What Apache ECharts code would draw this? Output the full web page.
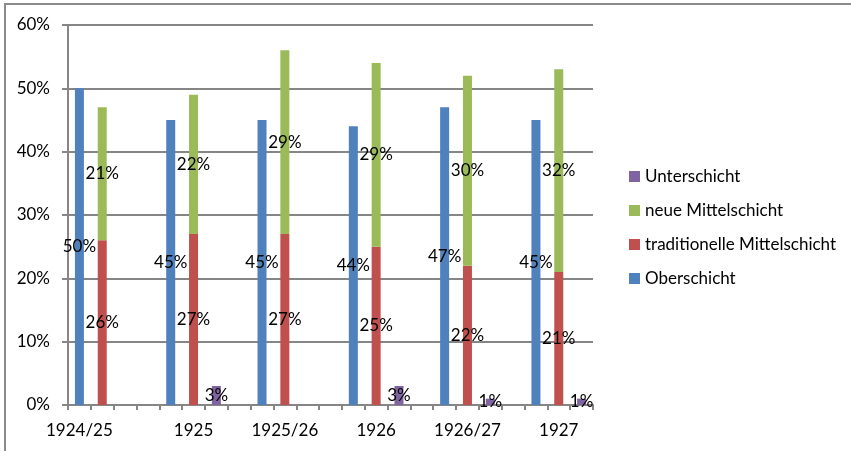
<!DOCTYPE html>
<html>
<head>
<meta charset="utf-8">
<script src="https://cdn.jsdelivr.net/npm/echarts@6/dist/echarts.min.js"></script>
<style>
html,body{margin:0;padding:0;background:#fff;}
#chart{width:851px;height:451px;}
</style>
</head>
<body>
<div id="chart"></div>
<script>
// ---- data ----
var years = ['1924/25', '1925', '1925/26', '1926', '1926/27', '1927'];
var oberschicht = [50, 45, 45, 44, 47, 45];
var traditionelle = [26, 27, 27, 25, 22, 21];
var neue = [21, 22, 29, 29, 30, 32];
var unterschicht = [null, 3, null, 3, 1, 1];
var yTicks = [0, 10, 20, 30, 40, 50, 60];
var seriesNames = ['Oberschicht', 'traditionelle Mittelschicht', 'neue Mittelschicht', 'Unterschicht'];

// ---- slot layout like the original spreadsheet: per year [Ober][Mittel][Unter][gap], last gap dropped ----
var nSlots = years.length * 4 - 1;
var slotKeys = [], slotLabels = [];
for (var i = 0; i < nSlots; i++) { slotKeys.push('s' + i); slotLabels.push(''); }
years.forEach(function (y, k) {
  var idx = (k === 0) ? 0 : 4 * k + 1;
  slotLabels[idx] = y;
});
function place(values, offset) {
  var arr = [];
  for (var i = 0; i < nSlots; i++) arr.push('-');
  values.forEach(function (v, k) {
    if (v !== null && v !== undefined) arr[4 * k + offset] = v;
  });
  return arr;
}
var colors = ['#4F81BD', '#C0504D', '#9BBB59', '#8064A2'];
var dataSets = [place(oberschicht, 0), place(traditionelle, 1), place(neue, 1), place(unterschicht, 2)];
var FONT = 'Lato';
var FS = 17;

var series = seriesNames.map(function (name, i) {
  return {
    name: name,
    type: 'bar',
    stack: 'all',
    barWidth: 9,
    data: dataSets[i],
    itemStyle: { color: colors[i] },
    label: {
      show: true,
      position: 'inside',
      formatter: '{c}%',
      color: '#000',
      fontFamily: FONT,
      fontSize: FS,
      textBorderWidth: 0
    },
    emphasis: { disabled: true }
  };
});

var chart = echarts.init(document.getElementById('chart'), null, { renderer: 'canvas' });
chart.setOption({
  animation: false,
  backgroundColor: '#fff',
  textStyle: { fontFamily: FONT },
  graphic: [{
    type: 'rect',
    shape: { x: 5, y: 4, width: 1000, height: 1000 },
    style: { fill: 'none', stroke: '#8a8a8a', lineWidth: 2 },
    silent: true
  }],
  grid: { left: 68, right: 258, top: 25, bottom: 46, containLabel: false },
  legend: {
    orient: 'vertical',
    left: 629,
    top: 168,
    padding: 0,
    itemWidth: 11,
    itemHeight: 11,
    itemGap: 17,
    icon: 'rect',
    data: ['Unterschicht', 'neue Mittelschicht', 'traditionelle Mittelschicht', 'Oberschicht'],
    textStyle: { fontFamily: FONT, fontSize: FS, color: '#000' }
  },
  xAxis: {
    type: 'category',
    data: slotKeys,
    boundaryGap: true,
    axisLine: { lineStyle: { color: '#868686', width: 2 } },
    axisTick: { show: true, interval: 0, length: 5, alignWithLabel: false, lineStyle: { color: '#868686', width: 2 } },
    axisLabel: {
      interval: 0,
      margin: 17,
      color: '#000',
      fontFamily: FONT,
      fontSize: FS,
      formatter: function (v, idx) { return slotLabels[idx]; }
    },
    splitLine: { show: false }
  },
  yAxis: {
    type: 'value',
    min: yTicks[0],
    max: yTicks[yTicks.length - 1],
    interval: 10,
    axisLine: { show: true, lineStyle: { color: '#868686', width: 2 } },
    axisTick: { show: true, length: 6, lineStyle: { color: '#868686', width: 2 } },
    axisLabel: {
      margin: 18,
      color: '#000',
      fontFamily: FONT,
      fontSize: FS,
      formatter: '{value}%'
    },
    splitLine: { show: true, lineStyle: { color: '#868686', width: 2 } }
  },
  series: series
});
</script>
</body>
</html>
